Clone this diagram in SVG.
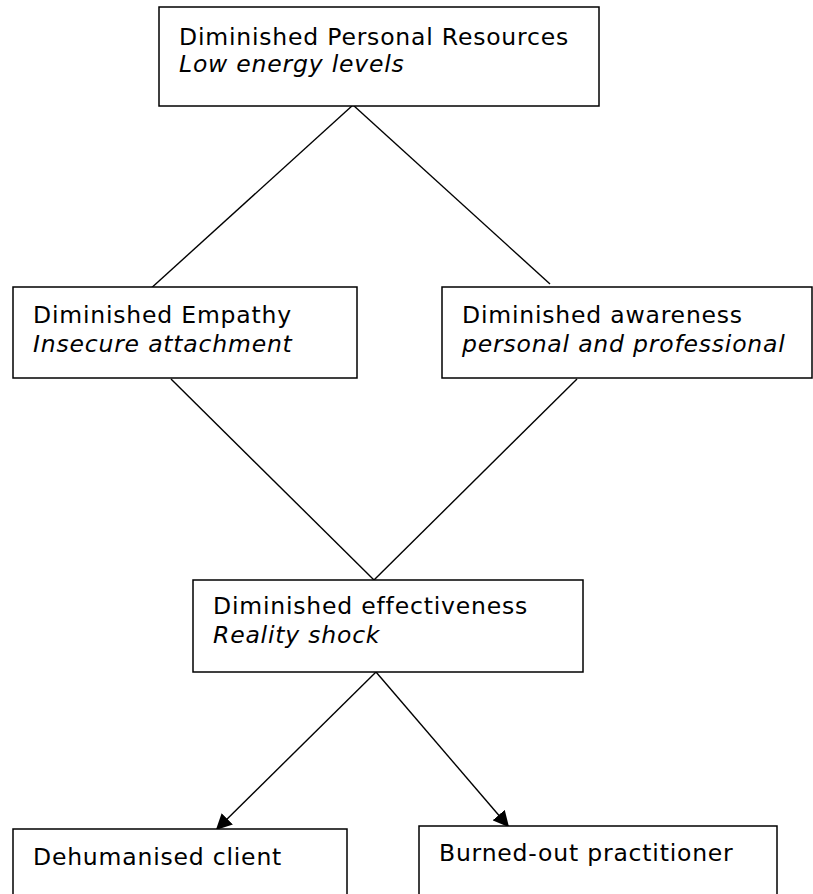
<svg xmlns="http://www.w3.org/2000/svg" width="813" height="894" viewBox="0 0 813 894">
<style>
.box{fill:#fff;stroke:#000;stroke-width:1.5}
.t{font-family:"DejaVu Sans","Verdana",sans-serif;font-size:23.5px;letter-spacing:0.8px;fill:#000}
.i{font-style:italic}
.c{stroke:#000;stroke-width:1.4;fill:none}
</style>
<defs>
<marker id="ah" viewBox="0 0 10 10" refX="9" refY="5" markerWidth="16" markerHeight="16" markerUnits="userSpaceOnUse" orient="auto">
<path d="M0,0 L10,5 L0,10 z" fill="#000"/>
</marker>
</defs>
<g id="connectors">
<line class="c" x1="353" y1="105" x2="148" y2="291"/>
<line class="c" x1="353" y1="105" x2="550" y2="284"/>
<line class="c" x1="171" y1="379" x2="374" y2="580"/>
<line class="c" x1="577" y1="379" x2="374" y2="580"/>
<line class="c" x1="376" y1="672" x2="217" y2="829" marker-end="url(#ah)"/>
<line class="c" x1="376" y1="672" x2="508" y2="826" marker-end="url(#ah)"/>
</g>
<g id="node-resources">
<rect class="box" x="159" y="7" width="440" height="99"/>
<text class="t" x="179" y="45">Diminished Personal Resources</text>
<text class="t i" x="179" y="72">Low energy levels</text>
</g>
<g id="node-empathy">
<rect class="box" x="13" y="287" width="344" height="91"/>
<text class="t" x="33" y="323">Diminished Empathy</text>
<text class="t i" x="33" y="352">Insecure attachment</text>
</g>
<g id="node-awareness">
<rect class="box" x="442" y="287" width="370" height="91"/>
<text class="t" x="462" y="323">Diminished awareness</text>
<text class="t i" x="462" y="352">personal and professional</text>
</g>
<g id="node-effectiveness">
<rect class="box" x="193" y="580" width="390" height="92"/>
<text class="t" x="213" y="614">Diminished effectiveness</text>
<text class="t i" x="213" y="643">Reality shock</text>
</g>
<g id="node-client">
<rect class="box" x="13" y="829" width="334" height="80"/>
<text class="t" x="33" y="865">Dehumanised client</text>
</g>
<g id="node-practitioner">
<rect class="box" x="419" y="826" width="358" height="80"/>
<text class="t" x="439" y="861">Burned-out practitioner</text>
</g>
</svg>
